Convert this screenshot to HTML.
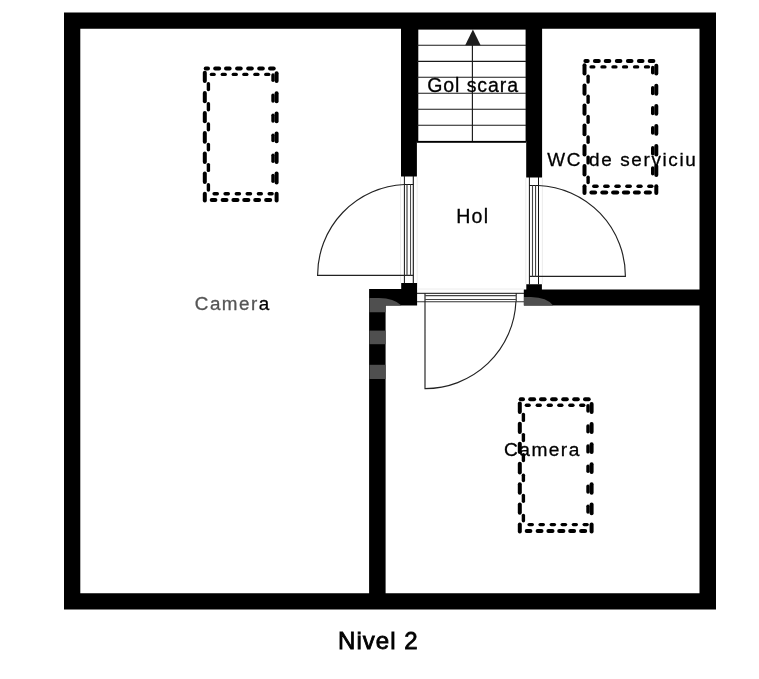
<!DOCTYPE html>
<html><head><meta charset="utf-8"><style>
html,body{margin:0;padding:0;background:#fff;}
body{width:759px;height:679px;overflow:hidden;}
svg{display:block;}
text{font-family:"Liberation Sans",sans-serif;}
</style></head><body>
<svg width="759" height="679" viewBox="0 0 759 679">
<defs><filter id="nf"><feOffset dx="0" dy="0"/></filter><g id="bed" fill="#000">
<rect x="203.7" y="66.5" width="6.3" height="4" rx="2"/>
<rect x="213.2" y="66.5" width="7.9" height="4" rx="2"/>
<rect x="224" y="66.5" width="7.6" height="4" rx="2"/>
<rect x="235.1" y="66.5" width="7.6" height="4" rx="2"/>
<rect x="246.2" y="66.5" width="7.6" height="4" rx="2"/>
<rect x="257.2" y="66.5" width="7.6" height="4" rx="2"/>
<rect x="268" y="66.5" width="7.7" height="4" rx="2"/>
<rect x="209.7" y="72.7" width="6.1" height="3.4" rx="1.7"/>
<rect x="220.6" y="72.7" width="6.3" height="3.4" rx="1.7"/>
<rect x="231.6" y="72.7" width="6.3" height="3.4" rx="1.7"/>
<rect x="242.2" y="72.7" width="6.3" height="3.4" rx="1.7"/>
<rect x="253.2" y="72.7" width="6.4" height="3.4" rx="1.7"/>
<rect x="264.1" y="72.7" width="6.3" height="3.4" rx="1.7"/>
<rect x="202.8" y="70.7" width="4" height="12.4" rx="2"/>
<rect x="202.8" y="91" width="4" height="12.2" rx="2"/>
<rect x="202.8" y="110.9" width="4" height="12.4" rx="2"/>
<rect x="202.8" y="131" width="4" height="12.8" rx="2"/>
<rect x="202.8" y="151.5" width="4" height="12.4" rx="2"/>
<rect x="202.8" y="171.6" width="4" height="12.4" rx="2"/>
<rect x="202.8" y="191.7" width="4" height="10.9" rx="2"/>
<rect x="206.7" y="82" width="3.4" height="9.3" rx="1.7"/>
<rect x="206.7" y="102.1" width="3.4" height="9.3" rx="1.7"/>
<rect x="206.7" y="122.2" width="3.4" height="9.3" rx="1.7"/>
<rect x="206.7" y="142.8" width="3.4" height="8.7" rx="1.7"/>
<rect x="206.7" y="162.9" width="3.4" height="9.2" rx="1.7"/>
<rect x="206.7" y="183" width="3.4" height="8.7" rx="1.7"/>
<rect x="274.6" y="71.2" width="4" height="11.9" rx="2"/>
<rect x="274.6" y="91.3" width="4" height="11.9" rx="2"/>
<rect x="274.6" y="111.4" width="4" height="11.9" rx="2"/>
<rect x="274.6" y="131.5" width="4" height="11.8" rx="2"/>
<rect x="274.6" y="151.5" width="4" height="12.4" rx="2"/>
<rect x="274.6" y="171.6" width="4" height="12.9" rx="2"/>
<rect x="274.6" y="191.7" width="4" height="10.9" rx="2"/>
<rect x="271.3" y="73.3" width="3.4" height="8.7" rx="1.7"/>
<rect x="271.3" y="93.4" width="3.4" height="9.3" rx="1.7"/>
<rect x="271.3" y="113.5" width="3.4" height="9.3" rx="1.7"/>
<rect x="271.3" y="133.6" width="3.4" height="8.6" rx="1.7"/>
<rect x="271.3" y="153.6" width="3.4" height="9.3" rx="1.7"/>
<rect x="271.3" y="173.7" width="3.4" height="9.3" rx="1.7"/>
<rect x="212.4" y="192.1" width="6.6" height="3.4" rx="1.7"/>
<rect x="223.4" y="192.1" width="6.6" height="3.4" rx="1.7"/>
<rect x="234.6" y="192.1" width="6.5" height="3.4" rx="1.7"/>
<rect x="245.5" y="192.1" width="6.7" height="3.4" rx="1.7"/>
<rect x="256.7" y="192.1" width="6.3" height="3.4" rx="1.7"/>
<rect x="267.5" y="192.1" width="6.3" height="3.4" rx="1.7"/>
<rect x="209.7" y="198.1" width="7.7" height="4" rx="2"/>
<rect x="220.6" y="198.1" width="7.9" height="4" rx="2"/>
<rect x="231.4" y="198.1" width="8.1" height="4" rx="2"/>
<rect x="242.2" y="198.1" width="8.2" height="4" rx="2"/>
<rect x="253.2" y="198.1" width="7.9" height="4" rx="2"/>
<rect x="264.1" y="198.1" width="8.1" height="4" rx="2"/>
</g></defs>
<rect x="0" y="0" width="759" height="679" fill="#fff"/>
<!-- outer wall -->
<path fill="#000" fill-rule="evenodd" d="M64 12.5H716V609.5H64Z M80.3 28.8V593.3H699.5V28.8Z"/>
<!-- stair walls -->
<path fill="#000" d="M401 20H418.3V141.5H416.9V176.5H401Z M525.6 20H542.1V177.4H526.2V141.5H525.6Z"/>
<!-- stairs -->
<g stroke="#1a1a1a" stroke-width="1.1">
<line x1="417" y1="45.2" x2="526" y2="45.2"/>
<line x1="417" y1="61.4" x2="526" y2="61.4"/>
<line x1="417" y1="77.3" x2="526" y2="77.3"/>
<line x1="417" y1="93.3" x2="526" y2="93.3"/>
<line x1="417" y1="109.3" x2="526" y2="109.3"/>
<line x1="417" y1="125.3" x2="526" y2="125.3"/>
</g>
<rect x="417" y="140.9" width="109" height="1.9" fill="#000"/>
<!-- arrow -->
<line x1="472.4" y1="44" x2="472.4" y2="141" stroke="#1a1a1a" stroke-width="1.15"/>
<path d="M472.9 29.6 L480.6 45.2 L465.2 45.2 Z" fill="#1e1e1e"/>
<rect x="417" y="28" width="109" height="1.6" fill="#000"/>
<!-- interior walls -->
<path fill="#000" d="M369.1 289.1H401.2V283H417.1V305.4H385.6V599H369.1Z M523.8 289.5H526.3V284.2H541.9V289.5H705V305.5H523.8Z"/>
<!-- watermark grey bands on walls -->
<g fill="#4f4f4f">
<path d="M369.5 298 H379 Q394 298.2 401.5 305.5 H385.6 V312.2 H369.5 Z"/>
<rect x="369.5" y="330.6" width="16.1" height="13.6"/>
<rect x="369.5" y="364.8" width="16.1" height="14.2"/>
<path d="M524 297 H531 Q547 297.3 553.2 305.5 H524 Z"/>
</g>
<!-- faint wall edge lines -->
<g stroke="#ececec" stroke-width="1" fill="none">
<path d="M400.5 177 V283 M417.2 177 V283 M525.8 178 V284 M542.4 178 V284 M417 289 H524"/>
</g>
<!-- left door -->
<g fill="none" stroke="#111" stroke-width="1">
<path d="M404.4 176 V283.5 M404.4 184.5 H413.3"/>
<path d="M413.3 176 V283.5" stroke-width="1.1"/>
<path d="M404.4 184.5 A90.8 90.8 0 0 0 317.6 275.4 H413.3" stroke="#222" stroke-width="1.15"/>
</g>
<g stroke="#444" fill="none">
<path d="M407 184.5 V275.5" stroke-width="1.2"/>
<path d="M410.55 184.5 V275.5" stroke-width="1"/>
</g>
<!-- right door -->
<g fill="none" stroke="#111" stroke-width="1">
<path d="M529.4 177 V284.5 M538.5 177 V284.5 M529.4 185.5 H538.5"/>
<path d="M538.5 185.5 A90.8 90.8 0 0 1 625.4 276.4 H529.4" stroke="#222" stroke-width="1.15"/>
</g>
<g stroke="#444" fill="none">
<path d="M532.5 185.5 V276.5" stroke-width="1.1"/>
<path d="M535.55 185.5 V276.5" stroke-width="1.1"/>
</g>
<!-- hol door -->
<g fill="none" stroke="#111" stroke-width="1">
<path d="M417 293.3 H524 M516.2 293.3 V301.7"/>
<path d="M417 301.7 H524" stroke="#333" stroke-width="1.1"/>
<path d="M425 293.3 V388.6 A90.8 90.8 0 0 0 515.9 301.7" stroke="#222" stroke-width="1.15"/>
</g>
<g stroke="#444" fill="none">
<path d="M425 295.65 H516" stroke-width="1.1"/>
<path d="M425 299.5 H516" stroke-width="1.1"/>
</g>
<!-- beds -->
<use href="#bed"/>
<use href="#bed" transform="translate(379.7,-7.5)"/>
<use href="#bed" transform="translate(315,330.8)"/>
<!-- labels -->
<g filter="url(#nf)" stroke-width="0.3">
<text x="427.22" y="92.35" font-size="19.5" textLength="90.79" lengthAdjust="spacing" fill="#000" stroke="#000">Gol scara</text>
<text x="456.15" y="222.65" font-size="19.58" textLength="31.92" lengthAdjust="spacing" fill="#000" stroke="#000">Hol</text>
<text x="547.35" y="165.92" font-size="18.93" textLength="148.47" lengthAdjust="spacing" fill="#000" stroke="#000">WC de serviciu</text>
<text x="194.79" y="310.2" font-size="18.84" textLength="74.45" lengthAdjust="spacing" fill="#555" stroke="#555">Camer<tspan fill="#000" stroke="#000">a</tspan></text>
<text x="504.12" y="456.3" font-size="19.16" textLength="75.17" lengthAdjust="spacing" fill="#000" stroke="#000">Camera</text>
<text x="338.03" y="649.2" font-size="24" textLength="79.69" lengthAdjust="spacing" fill="#000" stroke="#000" stroke-width="0.8">Nivel 2</text>
</g>
</svg>
</body></html>
